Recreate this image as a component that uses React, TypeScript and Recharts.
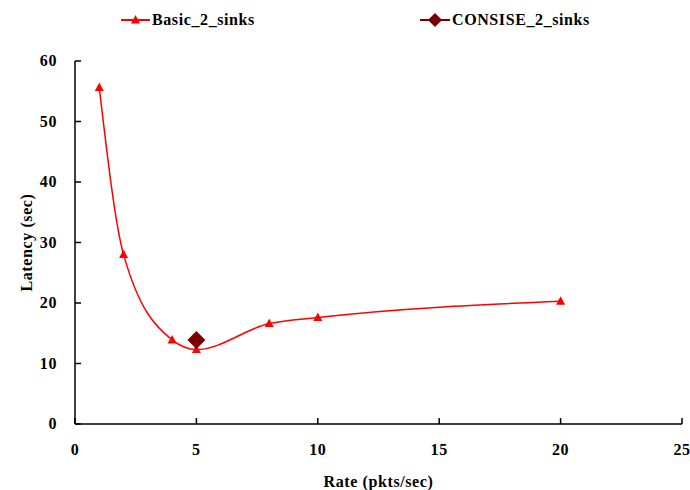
import { LineChart, Line, XAxis, YAxis, Label } from "recharts";

const rate = [1, 2, 4, 5, 8, 10, 20];
const basicLatency = [55.6, 28, 13.9, 12.3, 16.6, 17.6, 20.3];
const consiseRate = [5];
const consiseLatency = [13.9];
const xTicks = [0, 5, 10, 15, 20, 25];
const yTicks = [0, 10, 20, 30, 40, 50, 60];

const basicData = rate.map((r, i) => ({ rate: r, basic: basicLatency[i] }));
const consiseData = consiseRate.map((r, i) => ({ rate: r, consise: consiseLatency[i] }));

const FONT = "'Liberation Serif', 'Times New Roman', serif";
const textStyle = { fontFamily: FONT, fontWeight: "bold", fontSize: 16, fill: "#000", letterSpacing: 0.6 };

const Triangle = (props: any) => {
  const { cx, cy } = props;
  if (cx == null || cy == null) return null;
  return <path d={`M${cx},${cy - 5} L${cx + 4.5},${cy + 3.5} L${cx - 4.5},${cy + 3.5} Z`} fill="#ff0000" />;
};

const Diamond = (props: any) => {
  const { cx, cy } = props;
  if (cx == null || cy == null) return null;
  return <path d={`M${cx},${cy - 9} L${cx + 9},${cy} L${cx},${cy + 9} L${cx - 9},${cy} Z`} fill="#7a0000" />;
};

const XTick = (props: any) => {
  const { x, y, payload } = props;
  return (
    <g>
      <line x1={x} y1={y} x2={x} y2={y - 6} stroke="#000" strokeWidth={1.5} />
      <text x={x} y={y + 31} textAnchor="middle" style={textStyle}>
        {payload.value}
      </text>
    </g>
  );
};

const YTick = (props: any) => {
  const { x, y, payload } = props;
  return (
    <g>
      <line x1={x} y1={y} x2={x + 6} y2={y} stroke="#000" strokeWidth={1.5} />
      <text x={x - 18} y={y + 5} textAnchor="end" style={textStyle}>
        {payload.value}
      </text>
    </g>
  );
};

const LegendBox = () => (
  <svg width={690} height={40} style={{ position: "absolute", left: 0, top: 0 }}>
    <line x1={121} y1={20} x2={150} y2={20} stroke="#ff0000" strokeWidth={2} />
    <path d="M135.5,15 L140,23.5 L131,23.5 Z" fill="#ff0000" />
    <text x={152} y={25} style={textStyle}>
      Basic_2_sinks
    </text>
    <line x1={420} y1={20} x2={450} y2={20} stroke="#7a0000" strokeWidth={2} />
    <path d="M435,13 L442,20 L435,27 L428,20 Z" fill="#7a0000" />
    <text x={452} y={25} style={textStyle}>
      CONSISE_2_sinks
    </text>
  </svg>
);

export default function App() {
  return (
    <div style={{ position: "absolute", left: 0, top: 0, width: 690, height: 490, background: "#fff" }}>
      <LineChart width={690} height={490} margin={{ top: 61, right: 8, bottom: 0, left: 0 }}>
        <XAxis
          type="number"
          dataKey="rate"
          domain={[0, 25]}
          ticks={xTicks}
          tick={<XTick />}
          tickLine={false}
          tickSize={0}
          tickMargin={0}
          axisLine={{ stroke: "#000", strokeWidth: 1.5 }}
          height={66}
          allowDuplicatedCategory={false}
        >
          <Label value="Rate (pkts/sec)" position="insideBottom" offset={3} style={textStyle} />
        </XAxis>
        <YAxis
          type="number"
          domain={[0, 60]}
          ticks={yTicks}
          tick={<YTick />}
          tickLine={false}
          tickSize={0}
          tickMargin={0}
          axisLine={{ stroke: "#000", strokeWidth: 1.5 }}
          width={75}
        >
          <Label
            value="Latency (sec)"
            angle={-90}
            position="insideLeft"
            offset={26}
            style={{ ...textStyle, textAnchor: "middle" }}
          />
        </YAxis>
        <Line
          data={basicData}
          dataKey="basic"
          type="monotone"
          stroke="#ff0000"
          strokeWidth={1.5}
          dot={<Triangle />}
          activeDot={false}
          isAnimationActive={false}
        />
        <Line
          data={consiseData}
          dataKey="consise"
          type="monotone"
          stroke="#7a0000"
          strokeWidth={1.5}
          dot={<Diamond />}
          activeDot={false}
          isAnimationActive={false}
        />
      </LineChart>
      <LegendBox />
    </div>
  );
}
